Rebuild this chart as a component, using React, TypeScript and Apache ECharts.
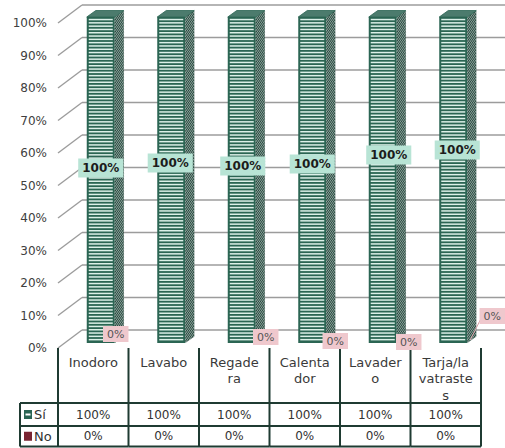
import React, { useEffect, useRef } from "react";
import * as echarts from "echarts";

// ---------- data ----------
const categories = ["Inodoro", "Lavabo", "Regadera", "Calentador", "Lavadero", "Tarja/lavatrastes"];
const categoryLabels = ["Inodoro", "Lavabo", "Regade\nra", "Calenta\ndor", "Lavader\no", "Tarja/la\nvatraste\ns"];
const seriesNames = ["Sí", "No"];
const siValues = [100, 100, 100, 100, 100, 100];
const noValues = [0, 0, 0, 0, 0, 0];
const yTicks = [0, 10, 20, 30, 40, 50, 60, 70, 80, 90, 100];

// ---------- label placement (px offsets, Excel-like) ----------
const siLabelShift: number[][] = [[0, -12], [-1, -17], [1, -14], [0, -16], [6, -25], [4, -30]];
const noLabelShift: (number[] | null)[] = [[1, -9], null, [10, -6], [9, -2], [12, -1], [25, -27]];

// ---------- style ----------
const FONT = "DejaVu Sans";
const DARK = "#2b6553";
const LIGHT = "#dcf0e8";
const SIDE = "#28413a";
const HATCH = "#9ab8ad";
const TOPC = "#4c7b6d";
const GRIDC = "#9c9c9c";
const TABLE = "#1f3b32";
const SI_BG = "#b8e4d5";
const NO_BG = "#efc8cd";
const NO_COLOR = "#7a2532";

const BAR_W = 28;
const BAR_SHIFT = 7.5;
const DEPTH_X = 9;
const DEPTH_Y = 6.5;
const WALL_DX = 24;
const WALL_DY = 18;

export default function App() {
  const ref = useRef<HTMLDivElement>(null);

  useEffect(() => {
    if (!ref.current) return;
    const chart = echarts.init(ref.current, null, { renderer: "svg" });

    const gridSeries = {
      type: "custom",
      coordinateSystem: "cartesian2d",
      silent: true,
      clip: false,
      z: 1,
      data: yTicks.map((v) => [0, v]),
      renderItem: (params: any, api: any) => {
        const y = api.coord([0, api.value(1)])[1];
        const cs = params.coordSys;
        const xl = cs.x;
        return {
          type: "group",
          children: [
            { type: "line", shape: { x1: xl, y1: y, x2: xl + WALL_DX, y2: y - WALL_DY }, style: { stroke: GRIDC, lineWidth: 1.4 } },
            { type: "line", shape: { x1: xl + WALL_DX, y1: y - WALL_DY, x2: api.getWidth(), y2: y - WALL_DY }, style: { stroke: GRIDC, lineWidth: 1.4 } },
          ],
        };
      },
    };

    const tableSeries = {
      type: "custom",
      coordinateSystem: "cartesian2d",
      silent: true,
      clip: false,
      z: 2,
      data: categories.map((_, i) => [i, siValues[i], noValues[i]]),
      renderItem: (params: any, api: any) => {
        const i = api.value(0);
        const c = api.coord([i, 0]);
        const bw = api.size([1, 0])[0];
        const xl = c[0] - bw / 2;
        const xr = c[0] + bw / 2;
        const y0 = c[1];
        const r1 = y0 + 55, r2 = y0 + 78, r3 = y0 + 98.5;
        const ls = { stroke: TABLE, lineWidth: 2 };
        const ch: any[] = [
          { type: "line", shape: { x1: xl, y1: y0, x2: xl, y2: r3 }, style: ls },
          { type: "line", shape: { x1: xl, y1: r1, x2: xr, y2: r1 }, style: ls },
          { type: "line", shape: { x1: xl, y1: r2, x2: xr, y2: r2 }, style: ls },
          { type: "line", shape: { x1: xl, y1: r3, x2: xr, y2: r3 }, style: ls },
          { type: "text", x: c[0], y: (r1 + r2) / 2, style: { text: api.value(1) + "%", fill: "#333", font: `12px '${FONT}'`, align: "center", verticalAlign: "middle" } },
          { type: "text", x: c[0], y: (r2 + r3) / 2, style: { text: api.value(2) + "%", fill: "#333", font: `12px '${FONT}'`, align: "center", verticalAlign: "middle" } },
        ];
        if (i === categories.length - 1) {
          ch.push({ type: "line", shape: { x1: xr, y1: y0, x2: xr, y2: r3 }, style: ls });
        }
        if (i === 0) {
          const lx = xl - 38;
          ch.push(
            { type: "line", shape: { x1: lx, y1: r1, x2: xl, y2: r1 }, style: ls },
            { type: "line", shape: { x1: lx, y1: r2, x2: xl, y2: r2 }, style: ls },
            { type: "line", shape: { x1: lx, y1: r3, x2: xl, y2: r3 }, style: ls },
            { type: "line", shape: { x1: lx, y1: r1, x2: lx, y2: r3 }, style: ls },
            { type: "rect", shape: { x: lx + 4, y: (r1 + r2) / 2 - 4.5, width: 8, height: 9 }, style: { fill: DARK } },
            { type: "rect", shape: { x: lx + 5.5, y: (r1 + r2) / 2 - 1, width: 5, height: 2 }, style: { fill: "#ffffff" } },
            { type: "text", x: lx + 14, y: (r1 + r2) / 2, style: { text: seriesNames[0], fill: "#333", font: `13px '${FONT}'`, align: "left", verticalAlign: "middle" } },
            { type: "rect", shape: { x: lx + 4, y: (r2 + r3) / 2 - 4.5, width: 8, height: 9 }, style: { fill: NO_COLOR } },
            { type: "text", x: lx + 14, y: (r2 + r3) / 2, style: { text: seriesNames[1], fill: "#333", font: `13px '${FONT}'`, align: "left", verticalAlign: "middle" } }
          );
        }
        return { type: "group", children: ch };
      },
    };

    const siSeries = {
      type: "custom",
      name: seriesNames[0],
      coordinateSystem: "cartesian2d",
      silent: true,
      clip: false,
      z: 3,
      data: categories.map((_, i) => [i, noValues[i] + siValues[i], noValues[i], siValues[i]]),
      renderItem: (params: any, api: any) => {
        const i = api.value(0);
        const pTop = api.coord([i, api.value(1)]);
        const pBot = api.coord([i, api.value(2)]);
        const cx = pTop[0] + BAR_SHIFT;
        const x0 = cx - BAR_W / 2;
        const x1 = cx + BAR_W / 2;
        const yT = pTop[1] - 6;
        const yB = pBot[1] - 5;
        const ch: any[] = [];
        ch.push({ type: "rect", shape: { x: x0, y: yT, width: BAR_W, height: yB - yT }, style: { fill: DARK } });
        for (let y = yT + 1.8; y < yB - 1.8; y += 3.3) {
          ch.push({ type: "rect", shape: { x: x0 + 2, y, width: BAR_W - 4, height: 1.5 }, style: { fill: LIGHT } });
        }
        ch.push({
          type: "polygon",
          shape: { points: [[x1, yT], [x1 + DEPTH_X, yT - DEPTH_Y], [x1 + DEPTH_X, yB - DEPTH_Y], [x1, yB]] },
          style: { fill: SIDE },
        });
        const k = 1.5;
        const s = DEPTH_Y / DEPTH_X;
        const m = k - s;
        for (let c = yT + 2; c < yB + m * DEPTH_X; c += 3) {
          const us = Math.max(0, (c - yB) / m);
          const ue = Math.min(DEPTH_X, (c - yT) / m);
          if (ue - us > 0.3) {
            ch.push({ type: "line", shape: { x1: x1 + us, y1: c - k * us, x2: x1 + ue, y2: c - k * ue }, style: { stroke: HATCH, lineWidth: 0.9 } });
          }
        }
        ch.push({
          type: "polygon",
          shape: { points: [[x0, yT], [x0 + DEPTH_X, yT - DEPTH_Y], [x1 + DEPTH_X, yT - DEPTH_Y], [x1, yT]] },
          style: { fill: TOPC, stroke: DARK, lineWidth: 0.8 },
        });
        const sh = siLabelShift[i];
        ch.push({
          type: "text",
          x: cx + sh[0],
          y: (yT + yB) / 2 + sh[1],
          z2: 10,
          style: {
            text: api.value(3) + "%",
            fill: "#1c1c1c",
            font: `bold 12px '${FONT}'`,
            align: "center",
            verticalAlign: "middle",
            backgroundColor: SI_BG,
            padding: [4, 4, 3, 4],
          },
        });
        return { type: "group", children: ch };
      },
    };

    const noSeries = {
      type: "custom",
      name: seriesNames[1],
      coordinateSystem: "cartesian2d",
      silent: true,
      clip: false,
      z: 4,
      data: categories.map((_, i) => [i, noValues[i]]),
      renderItem: (params: any, api: any) => {
        const i = api.value(0);
        const sh = noLabelShift[i];
        if (!sh) return { type: "group", children: [] };
        const p = api.coord([i, api.value(1)]);
        const x1 = p[0] + BAR_SHIFT + BAR_W / 2;
        const yB = p[1] - 5;
        const ch: any[] = [];
        if (Math.abs(sh[0]) > 20) {
          ch.push({ type: "line", shape: { x1: x1 + 3, y1: yB - 3, x2: x1 + sh[0] - 12, y2: yB + sh[1] + 4 }, style: { stroke: "#d9a3aa", lineWidth: 1 } });
        }
        ch.push({
          type: "text",
          x: x1 + sh[0],
          y: yB + sh[1],
          style: {
            text: api.value(1) + "%",
            fill: "#555",
            font: `11px '${FONT}'`,
            align: "center",
            verticalAlign: "middle",
            backgroundColor: NO_BG,
            padding: [3, 4, 2, 4],
          },
        });
        return { type: "group", children: ch };
      },
    };

    const option: any = {
      animation: false,
      backgroundColor: "#ffffff",
      textStyle: { fontFamily: FONT },
      grid: { left: 58, right: 24, top: 23, bottom: 100, containLabel: false },
      xAxis: {
        type: "category",
        data: categories,
        axisLine: { show: false },
        axisTick: { show: false },
        splitLine: { show: false },
        axisLabel: {
          interval: 0,
          formatter: (_v: string, idx: number) => categoryLabels[idx],
          fontSize: 13,
          lineHeight: 16.5,
          color: "#3a3a3a",
          margin: 6,
          fontFamily: FONT,
        },
      },
      yAxis: {
        type: "value",
        min: 0,
        max: 100,
        interval: 10,
        axisLine: { show: false },
        axisTick: { show: false },
        splitLine: { show: false },
        axisLabel: { formatter: "{value}%", fontSize: 12, color: "#404040", margin: 11, fontFamily: FONT },
      },
      series: [gridSeries, tableSeries, siSeries, noSeries],
    };

    chart.setOption(option);
    return () => chart.dispose();
  }, []);

  return <div ref={ref} style={{ position: "fixed", left: 0, top: 0, width: 505, height: 448 }} />;
}
